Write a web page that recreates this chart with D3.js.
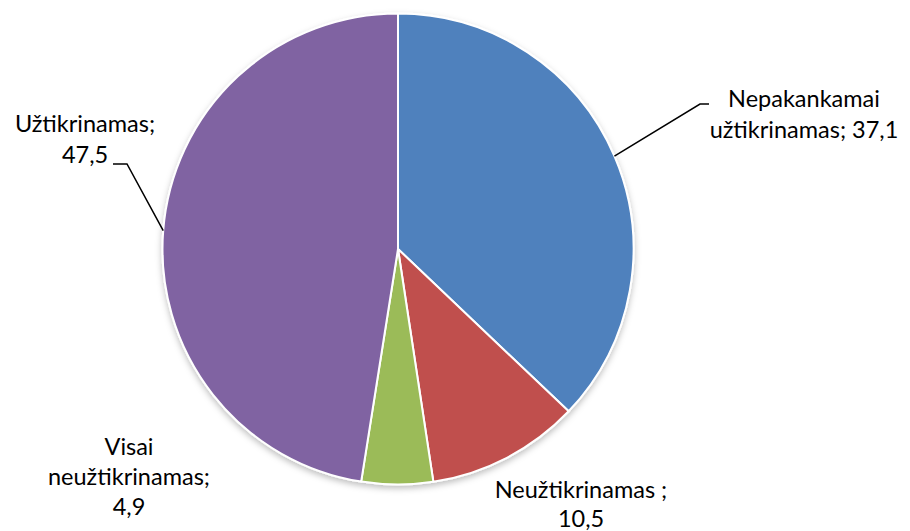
<!DOCTYPE html>
<html>
<head>
<meta charset="utf-8">
<script src="https://cdn.jsdelivr.net/npm/d3@7"></script>
<style>
  body { margin: 0; background: #fff; }
  svg { display: block; }
  .lbl { font-family: Lato, "Open Sans", sans-serif; font-size: 23.5px; fill: #000; }
</style>
</head>
<body>
<svg id="chart"></svg>
<script>
// data
const categories = ['Nepakankamai užtikrinamas', 'Neužtikrinamas ', 'Visai neužtikrinamas', 'Užtikrinamas'];
const values = [37.1, 10.5, 4.9, 47.5];
const colors = ['#4F81BD', '#C0504D', '#9BBB59', '#8064A2'];

const width = 910, height = 531;
const cx = 398, cy = 249, radius = 235.5;

const svg = d3.select('#chart')
    .attr('width', width)
    .attr('height', height);

// soft shadow like the office chart
const defs = svg.append('defs');
const shadow = defs.append('filter').attr('id', 'shadow')
    .attr('x', '-10%').attr('y', '-10%').attr('width', '120%').attr('height', '125%');
shadow.append('feDropShadow')
    .attr('dx', 0).attr('dy', 3).attr('stdDeviation', 3)
    .attr('flood-color', '#000').attr('flood-opacity', 0.25);

const chart = svg.append('g')
    .attr('transform', `translate(${cx},${cy})`);

const pie = d3.pie().sort(null).value(d => d.value);
const arcs = pie(values.map((v, i) => ({ name: categories[i], value: v, color: colors[i] })));

const arc = d3.arc().innerRadius(0).outerRadius(radius);
const edge = d3.arc().innerRadius(radius).outerRadius(radius);

chart.append('g').attr('filter', 'url(#shadow)')
  .selectAll('path')
    .data(arcs)
  .join('path')
    .attr('d', arc)
    .attr('fill', d => d.data.color)
    .attr('stroke', '#fff')
    .attr('stroke-width', 2)
    .attr('stroke-linejoin', 'round');

const fmt = v => String(v).replace('.', ',');

// label layout (absolute page coords), lines of text + optional leader elbow
const labelLayout = [
  { x: 804, y: 107, gap: 31, lines: ['Nepakankamai', 'užtikrinamas; ' + fmt(values[0])], elbow: [[700, 104], [709, 104]] },
  { x: 581, y: 498, gap: 29, lines: ['Neužtikrinamas ;', fmt(values[1])] },
  { x: 129, y: 455, gap: 30, lines: ['Visai', 'neužtikrinamas;', fmt(values[2])] },
  { x: 85,  y: 132, gap: 31, lines: ['Užtikrinamas;', fmt(values[3])], elbow: [[127, 164], [113, 164]] }
];

const labels = svg.append('g');

arcs.forEach((d, i) => {
  const L = labelLayout[i];
  if (L.elbow) {
    const [ex, ey] = edge.centroid(d);
    const pts = [[cx + ex, cy + ey], ...L.elbow];
    labels.append('path')
        .attr('d', d3.line()(pts))
        .attr('fill', 'none')
        .attr('stroke', '#000')
        .attr('stroke-width', 1.5);
  }
  const t = labels.append('text')
      .attr('class', 'lbl')
      .attr('text-anchor', 'middle')
      .attr('x', L.x)
      .attr('y', L.y);
  L.lines.forEach((s, j) => {
    t.append('tspan').attr('x', L.x).attr('dy', j === 0 ? 0 : L.gap).text(s);
  });
});
</script>
</body>
</html>
